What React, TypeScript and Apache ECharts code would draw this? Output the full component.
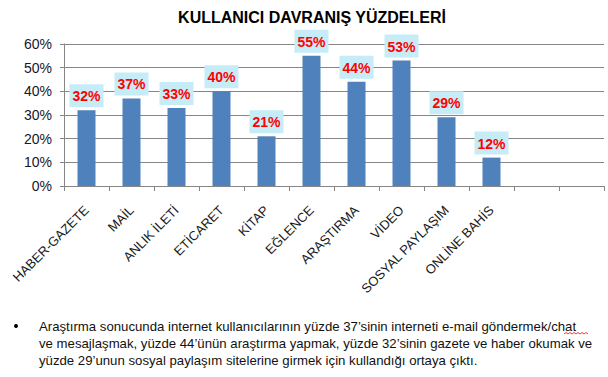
import React, { useEffect, useRef } from 'react';
import * as echarts from 'echarts';

const titleText = 'KULLANICI DAVRANIŞ YÜZDELERİ';
const categories = [
  'HABER-GAZETE', 'MAİL', 'ANLIK İLETİ', 'ETİCARET', 'KİTAP', 'EĞLENCE',
  'ARAŞTIRMA', 'VİDEO', 'SOSYAL PAYLAŞIM', 'ONLİNE BAHİS', '', '',
];
const values = [0.32, 0.37, 0.33, 0.40, 0.21, 0.55, 0.44, 0.53, 0.29, 0.12];
const yMin = 0;
const yMax = 0.6;
const yInterval = 0.1;
const noteLines = [
  'Araştırma sonucunda internet kullanıcılarının yüzde 37’sinin interneti e-mail göndermek/chat',
  've mesajlaşmak, yüzde 44’ünün araştırma yapmak, yüzde 32’sinin gazete ve haber okumak ve',
  'yüzde 29’unun sosyal paylaşım sitelerine girmek için kullandığı ortaya çıktı.',
];

const FONT = '"Liberation Sans", Arial, sans-serif';

export default function App() {
  const ref = useRef<HTMLDivElement>(null);
  useEffect(() => {
    if (!ref.current) return;
    const chart = echarts.init(ref.current, null, { renderer: 'svg' });
    const pct = (v: number) => `${Math.round(v * 100)}%`;
    // decorative spell-check squiggle under "chat"
    const squiggle: number[][] = [];
    for (let i = 0; i <= 12; i++) squiggle.push([564 + i * 2, i % 2 === 0 ? 334 : 332.5]);
    chart.setOption({
      animation: false,
      backgroundColor: '#ffffff',
      grid: { left: 64, right: 4, top: 44, bottom: 191, containLabel: false },
      xAxis: {
        type: 'category',
        data: categories,
        boundaryGap: true,
        axisLine: { show: true, lineStyle: { color: '#868686', width: 1 } },
        axisTick: { show: true, length: 5, interval: 0, lineStyle: { color: '#868686' } },
        axisLabel: {
          interval: 0,
          rotate: 45,
          margin: 22,
          fontFamily: FONT,
          fontSize: 13,
          color: '#1a1a1a',
        },
      },
      yAxis: {
        type: 'value',
        min: yMin,
        max: yMax,
        interval: yInterval,
        axisLine: { show: true, lineStyle: { color: '#868686', width: 1 } },
        axisTick: { show: true, length: 4, lineStyle: { color: '#868686' } },
        splitLine: { show: true, lineStyle: { color: '#868686', width: 1 } },
        axisLabel: {
          formatter: (v: number) => pct(v),
          fontFamily: FONT,
          fontSize: 14,
          color: '#16162c',
          margin: 12,
        },
      },
      series: [
        {
          type: 'bar',
          data: values,
          barWidth: '40%',
          itemStyle: { color: '#4f81bd' },
          label: {
            show: true,
            position: 'top',
            distance: 3,
            formatter: (p: any) => pct(p.value),
            fontFamily: FONT,
            fontWeight: 'bold',
            fontSize: 14,
            color: '#ff0000',
            backgroundColor: '#c5ecf7',
            padding: [5, 3, 4, 3],
          },
        },
      ],
      graphic: [
        {
          type: 'text',
          x: 312,
          y: 17,
          style: {
            text: titleText,
            fontFamily: FONT,
            fontWeight: 'bold',
            fontSize: 16,
            fill: '#000000',
            align: 'center',
            verticalAlign: 'middle',
          },
        },
        {
          type: 'circle',
          shape: { cx: 16, cy: 326, r: 2 },
          style: { fill: '#000000' },
        },
        ...noteLines.map((t, i) => ({
          type: 'text',
          x: 39,
          y: 326 + i * 17,
          style: {
            text: t,
            fontFamily: FONT,
            fontSize: 13.2,
            fill: '#111111',
            align: 'left',
            verticalAlign: 'middle',
          },
        })),
        {
          type: 'polyline',
          shape: { points: squiggle },
          style: { stroke: '#ff0000', lineWidth: 0.8, fill: 'none' },
        },
      ],
    });
    return () => chart.dispose();
  }, []);
  return (
    <div
      ref={ref}
      style={{ position: 'absolute', left: 0, top: 0, width: 608, height: 377 }}
    />
  );
}
